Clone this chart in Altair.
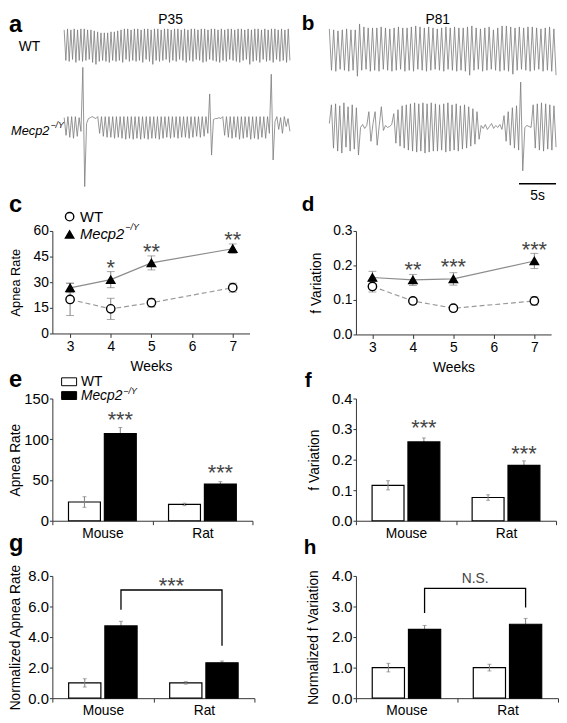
import altair as alt
import pandas as pd

FONT = "Liberation Sans"
TRACE = "#7a7a7a"
KO_LINE = "#8c8c8c"
WT_LINE = "#9a9a9a"
ERR = "#808080"
STAR = "#444444"
AXIS = "#333333"

# ---------------- panels a / b : respiration traces ----------------
# signal units (0 = bottom of the trace strip)
a_seconds = 30.0
a_wt_peak = [175, 176, 175, 176, 175, 176, 176, 175, 175, 174,
             173, 172, 172, 172, 173, 173, 174, 175, 176, 176,
             175, 176, 176, 175, 176, 176, 175, 176, 176, 175,
             176, 176, 175, 176, 176, 175, 176, 175, 176, 176,
             175, 176, 176, 175, 176, 176, 175, 176, 175, 176,
             176, 175, 176, 176, 175, 176, 175, 176, 176, 175,
             176, 175, 176, 176, 175, 176, 175, 176]
a_wt_trough = [144, 143, 145, 142, 144, 143, 144, 145, 142, 140,
               143, 144, 143, 142, 144, 143, 144, 142, 145, 143,
               144, 143, 144, 142, 145, 143, 140, 144, 143, 144,
               145, 142, 144, 143, 145, 144, 142, 144, 143, 145,
               144, 142, 143, 145, 144, 143, 142, 144, 143, 145,
               144, 143, 142, 144, 145, 140, 143, 144, 142, 145,
               143, 144, 142, 145, 143, 144, 142, 144]
a_ko = [86, 68, 87, 66, 87, 65, 87, 67, 86, 72,
        137, 16, 80,
        85, 86, 87, 86, 85,
        87, 70, 87, 67, 87, 66, 87, 66, 87, 65, 87, 66, 87, 65, 87, 64, 87, 65, 87, 64,
        87, 65, 87, 64, 87, 65, 87, 64, 87, 65, 87, 65, 87, 64, 87, 65, 87, 66, 87, 65,
        87, 66, 87, 65, 87, 66, 87, 66, 87, 65, 87, 66, 87, 67, 87, 66, 87, 67, 87, 70,
        110, 48, 84,
        85, 85, 86, 85,
        87, 68, 87, 66, 87, 65, 87, 66, 87, 64, 87, 65, 87, 66, 87, 64, 87, 65, 87, 64,
        87, 66, 87, 65, 87, 70,
        130, 43, 82,
        87, 74, 86, 70, 87, 77, 85, 72]

b_seconds = 30.6
b_wt_peak = [176, 175, 174, 175, 176, 175, 175, 181, 178, 177,
             177, 177, 178, 177, 176, 177, 178, 177, 177, 178,
             179, 178, 177, 178, 177, 176, 177, 178, 177, 178,
             177, 177, 178, 179, 177, 176, 177, 178, 175, 177,
             179, 179, 178, 177, 178, 177, 178, 178, 177, 176,
             177, 178, 176]
b_wt_trough = [134, 133, 135, 134, 133, 134, 128, 134, 135, 133,
               134, 133, 135, 134, 133, 134, 135, 133, 134, 133,
               135, 134, 133, 134, 135, 134, 133, 135, 134, 133,
               134, 133, 129, 134, 135, 133, 134, 135, 134, 133,
               134, 133, 130, 134, 135, 134, 133, 134, 135, 133,
               134, 133, 129]
b_ko = [80, 99, 55, 100, 52, 98, 50, 101, 56, 97, 52, 99, 54, 96, 48,
        76, 79, 75, 78, 92, 62, 80, 92, 58, 78, 97, 73, 78, 76, 77, 79,
        90, 60, 94, 57, 98, 55, 99, 53, 100, 52, 101, 51, 100, 52, 101, 50, 100, 51, 101, 52,
        100, 52, 99, 53, 100, 51, 101, 52, 99, 53, 100, 52, 98, 54, 99, 55, 97, 57, 95, 59, 92, 64,
        78, 75, 79, 74, 77, 80, 75, 78, 76, 79, 74,
        88, 62, 92, 58, 96, 55, 98, 53,
        122, 32,
        76, 78, 77, 76,
        99, 55, 100, 53, 101, 52, 100, 54, 99, 53, 98, 56]
scalebar_s = [25.6, 30.6]
scalebar_level = 19
scalebar_label_level = 6.5

# ---------------- panels c / d : weekly time course ----------------
weeks = [3, 4, 5, 7]
c_wt = [19.9, 14.4, 18.0, 26.8]
c_wt_err = [9.4, 6.2, 2.5, 2.6]
c_ko = [26.7, 31.5, 41.3, 49.6]
c_ko_err = [2.8, 4.7, 4.1, 2.8]
c_star_weeks = [4, 5, 7]
c_star_y = [41.7, 51.3, 58.4]
c_star_txt = ["*", "**", "**"]

d_wt = [0.139, 0.097, 0.076, 0.097]
d_wt_err = [0.016, 0.008, 0.006, 0.012]
d_ko = [0.165, 0.158, 0.161, 0.213]
d_ko_err = [0.018, 0.016, 0.018, 0.022]
d_star_weeks = [4, 5, 7]
d_star_y = [0.204, 0.211, 0.261]
d_star_txt = ["**", "***", "***"]

# ---------------- panels e-h : mouse vs rat ----------------
species = ["Mouse", "Rat"]
genos = ["WT", "Mecp2"]
e_wt = [23, 20]
e_wt_err = [6.5, 1.5]
e_ko = [107, 45]
e_ko_err = [7.5, 3]
e_star_y = [130.7, 65.5]

f_wt = [0.116, 0.076]
f_wt_err = [0.015, 0.009]
f_ko = [0.258, 0.181]
f_ko_err = [0.013, 0.015]
f_star_y = [0.324, 0.236]

g_wt = [1.0, 1.0]
g_wt_err = [0.27, 0.08]
g_ko = [4.73, 2.32]
g_ko_err = [0.30, 0.11]
g_bracket = [5.79, 7.08, 7.08, 3.43]
g_sig_y = 7.74

h_wt = [1.0, 1.0]
h_wt_err = [0.14, 0.11]
h_ko = [2.25, 2.42]
h_ko_err = [0.13, 0.19]
h_bracket = [2.79, 3.59, 3.59, 2.97]
h_sig_y = 3.91


def txt(s, x, y, size=14, weight="normal", style="normal", align="left",
        baseline="alphabetic", color="black"):
    return alt.Chart(pd.DataFrame({"s": [s]})).mark_text(
        fontSize=size, fontWeight=weight, fontStyle=style, align=align,
        baseline=baseline, color=color, font=FONT
    ).encode(text="s:N", x=alt.value(x), y=alt.value(y))


def interleave(p, q):
    out = []
    for u, v in zip(p, q):
        out.extend([u, v])
    return out


def trace_frame(vals, duration, name):
    n = len(vals)
    return pd.DataFrame({"t": [duration * i / (n - 1) for i in range(n)],
                         "v": vals, "s": [name] * n})


TV = alt.Scale(domain=[0, 180], nice=False, zero=False)

# panel a
TA = alt.Scale(domain=[-1.572, a_seconds], nice=False, zero=False)
df_a = pd.concat([trace_frame(interleave(a_wt_peak, a_wt_trough), a_seconds, "WT"),
                  trace_frame(a_ko, a_seconds, "Mecp2")])
panel_a = alt.layer(
    alt.Chart(df_a).mark_line(color=TRACE, strokeWidth=0.8).encode(
        x=alt.X("t:Q", scale=TA, axis=None), y=alt.Y("v:Q", scale=TV, axis=None),
        detail="s:N"),
    txt("a", -44, -12, 24, "bold", baseline="top"),
    txt("P35", 120, -5, 14, align="center", baseline="middle"),
    txt("WT", -34, 22, 14, baseline="middle"),
    txt("Mecp2", -3, 107.5, 13, style="italic", align="right", baseline="middle"),
    txt("\u2212/Y", -2, 102, 9, style="italic", baseline="middle"),
).properties(width=241, height=180)

# panel b
TB = alt.Scale(domain=[3.592, b_seconds], nice=False, zero=False)
df_b = pd.concat([trace_frame(interleave(b_wt_peak, b_wt_trough), b_seconds, "WT"),
                  trace_frame(b_ko, b_seconds, "Mecp2")])
sb = pd.DataFrame({"t0": [scalebar_s[0]], "t1": [scalebar_s[1]], "v": [scalebar_level]})
sbt = pd.DataFrame({"t": [(scalebar_s[0] + scalebar_s[1]) / 2], "v": [scalebar_label_level],
                    "s": ["5s"]})
panel_b = alt.layer(
    alt.Chart(df_b).mark_line(color=TRACE, strokeWidth=0.8).encode(
        x=alt.X("t:Q", scale=TB, axis=None), y=alt.Y("v:Q", scale=TV, axis=None),
        detail="s:N"),
    alt.Chart(sb).mark_rule(color="black", strokeWidth=1.5).encode(
        x=alt.X("t0:Q", scale=TB, axis=None), x2="t1:Q",
        y=alt.Y("v:Q", scale=TV, axis=None)),
    alt.Chart(sbt).mark_text(fontSize=14, baseline="middle", font=FONT).encode(
        x=alt.X("t:Q", scale=TB, axis=None), y=alt.Y("v:Q", scale=TV, axis=None),
        text="s:N"),
    txt("b", -55, -12, 21, "bold", baseline="top"),
    txt("P81", 83, -5, 14, align="center", baseline="middle"),
).properties(width=203, height=180)


def line_panel(wt, wt_err, ko, ko_err, xdom, ydom, yvals, yfmt, ytitle, ytitle_size,
               ytitle_pad, s_w, s_y, s_t, width, height, legend, extra):
    X = alt.X("w:Q", scale=alt.Scale(domain=xdom, nice=False, zero=False),
              axis=alt.Axis(values=[3, 4, 5, 6, 7], title="Weeks", labelFontSize=14,
                            titleFontSize=14, titleFontWeight="normal", tickSize=4,
                            labelPadding=2, titlePadding=7))
    ys = alt.Scale(domain=ydom, nice=False, zero=False)
    yax = alt.Axis(values=yvals, format=yfmt, title=ytitle, titleFontSize=ytitle_size,
                   titleFontWeight="normal", labelFontSize=14, tickSize=3,
                   labelPadding=1, titlePadding=ytitle_pad)
    rows = []
    for i, w in enumerate(weeks):
        rows.append(dict(w=w, g="WT", m=wt[i], lo=wt[i] - wt_err[i], hi=wt[i] + wt_err[i]))
    for i, w in enumerate(weeks):
        rows.append(dict(w=w, g="Mecp2", m=ko[i], lo=ko[i] - ko_err[i], hi=ko[i] + ko_err[i]))
    base = alt.Chart(pd.DataFrame(rows))
    Y = alt.Y("m:Q", scale=ys, axis=yax)
    layers = [
        base.transform_filter("datum.g == 'WT'").mark_line(
            color=WT_LINE, strokeWidth=1.2, strokeDash=[5, 3]).encode(x=X, y=Y),
        base.transform_filter("datum.g == 'Mecp2'").mark_line(
            color=KO_LINE, strokeWidth=1.2).encode(x=X, y=Y),
        base.mark_rule(color=ERR, strokeWidth=1).encode(
            x=X, y=alt.Y("lo:Q", scale=ys, axis=yax), y2="hi:Q"),
        base.mark_tick(orient="horizontal", size=8, thickness=1, color=ERR).encode(
            x=X, y=alt.Y("lo:Q", scale=ys, axis=yax)),
        base.mark_tick(orient="horizontal", size=8, thickness=1, color=ERR).encode(
            x=X, y=alt.Y("hi:Q", scale=ys, axis=yax)),
        base.mark_point(filled=True, strokeWidth=1.4, size=72, opacity=1).encode(
            x=X, y=Y,
            shape=alt.Shape("g:N", scale=alt.Scale(domain=genos,
                                                   range=["circle", "triangle-up"]),
                            legend=legend),
            fill=alt.Fill("g:N", scale=alt.Scale(domain=genos, range=["white", "black"]),
                          legend=legend),
            stroke=alt.Stroke("g:N", scale=alt.Scale(domain=genos,
                                                     range=["black", "black"]),
                              legend=legend)),
        alt.Chart(pd.DataFrame({"w": s_w, "y": s_y, "s": s_t})).mark_text(
            fontSize=22, color=STAR, baseline="middle", dy=6, font=FONT).encode(
            x=X, y=alt.Y("y:Q", scale=ys, axis=yax), text="s:N"),
    ]
    return alt.layer(*layers, *extra).properties(width=width, height=height)


ITALIC_KO = alt.expr("datum.label == 'WT' ? 'normal' : 'italic'")

legend_c = alt.Legend(title=None, orient="none", legendX=10, legendY=-22,
                      direction="vertical", symbolSize=72, symbolStrokeColor="black",
                      symbolStrokeWidth=1.4, labelFontSize=15, labelFont=FONT,
                      labelOffset=3, rowPadding=2, padding=0, labelFontStyle=ITALIC_KO)

panel_c = line_panel(c_wt, c_wt_err, c_ko, c_ko_err, [2.564, 7.412], [0, 60],
                     [0, 15, 30, 45, 60], "d", "Apnea Rate", 13, 11,
                     c_star_weeks, c_star_y, c_star_txt, 200, 104, legend_c,
                     [txt("c", -44, -19, 24, "bold"),
                      txt("\u2212/Y", 74, -4, 9, style="italic", baseline="middle")])

panel_d = line_panel(d_wt, d_wt_err, d_ko, d_ko_err, [2.593, 7.414], [0, 0.3],
                     [0.0, 0.1, 0.2, 0.3], ".1f", "f Variation", 14, 9,
                     d_star_weeks, d_star_y, d_star_txt, 198, 105, None,
                     [txt("d", -55, -20, 21, "bold")])


def bar_panel(wt, wt_err, ko, ko_err, ydom, yvals, yfmt, ytitle, tpad, width, height,
              stars_y, bracket, sig, sig_txt, legend, extra):
    xs = alt.Scale(domain=species, paddingInner=0, paddingOuter=0)
    xax = alt.Axis(title=None, labelAngle=0, tickBand="extent", labelFontSize=14,
                   labelPadding=2, tickSize=4)
    X = alt.X("sp:N", scale=xs, axis=xax)
    XO = alt.XOffset("g:N", scale=alt.Scale(domain=genos, paddingInner=0.11,
                                             paddingOuter=0.45))
    ys = alt.Scale(domain=ydom, nice=False, zero=True)
    yax = alt.Axis(values=yvals, format=yfmt, title=ytitle, titleFontSize=14,
                   titleFontWeight="normal", labelFontSize=15, tickSize=3,
                   labelPadding=1, titlePadding=tpad)
    rows = []
    for i, sp in enumerate(species):
        rows.append(dict(sp=sp, g="WT", m=wt[i], lo=wt[i] - wt_err[i], hi=wt[i] + wt_err[i]))
        rows.append(dict(sp=sp, g="Mecp2", m=ko[i], lo=ko[i] - ko_err[i], hi=ko[i] + ko_err[i]))
    base = alt.Chart(pd.DataFrame(rows))
    Y = alt.Y("m:Q", scale=ys, axis=yax)

    def errs(flt):
        b = base.transform_filter(flt)
        return [
            b.mark_rule(color=ERR, strokeWidth=1).encode(
                x=X, xOffset=XO, y=alt.Y("lo:Q", scale=ys, axis=yax), y2="hi:Q"),
            b.mark_tick(size=4, thickness=1, color=ERR).encode(
                x=X, xOffset=XO, y=alt.Y("lo:Q", scale=ys, axis=yax)),
            b.mark_tick(size=4, thickness=1, color=ERR).encode(
                x=X, xOffset=XO, y=alt.Y("hi:Q", scale=ys, axis=yax)),
        ]

    layers = errs("datum.g == 'Mecp2'") + [
        base.mark_bar(stroke="black", strokeWidth=1.2).encode(
            x=X, xOffset=XO, y=Y,
            fill=alt.Fill("g:N", scale=alt.Scale(domain=genos, range=["white", "black"]),
                          legend=legend)),
    ] + errs("datum.g == 'WT'")
    if stars_y is not None:
        sdf = pd.DataFrame({"sp": species, "g": ["Mecp2", "Mecp2"], "y": stars_y,
                            "s": ["***", "***"]})
        layers.append(alt.Chart(sdf).mark_text(
            fontSize=22, color=STAR, baseline="middle", dy=6, font=FONT).encode(
            x=X, xOffset=XO, y=alt.Y("y:Q", scale=ys, axis=yax), text="s:N"))
    if bracket is not None:
        bdf = pd.DataFrame({"sp": ["Mouse", "Mouse", "Rat", "Rat"], "g": ["Mecp2"] * 4,
                            "y": bracket, "o": [0, 1, 2, 3]})
        layers.append(alt.Chart(bdf).mark_line(color="black", strokeWidth=1.3).encode(
            x=X, xOffset=XO, y=alt.Y("y:Q", scale=ys, axis=yax), order="o:Q"))
        tdf = pd.DataFrame({"sp": ["Mouse"], "g": ["Mecp2"], "y": [sig], "s": [sig_txt]})
        if sig_txt == "***":
            mk = alt.Chart(tdf).mark_text(fontSize=22, color=STAR, baseline="middle",
                                          dy=6, dx=width / 4, font=FONT)
        else:
            mk = alt.Chart(tdf).mark_text(fontSize=14, color=STAR, baseline="middle",
                                          dx=width / 4, font=FONT)
        layers.append(mk.encode(x=X, xOffset=XO, y=alt.Y("y:Q", scale=ys, axis=yax),
                                text="s:N"))
    return alt.layer(*layers, *extra).properties(width=width, height=height)


legend_e = alt.Legend(title=None, orient="none", legendX=10, legendY=-24,
                      direction="vertical", symbolType="M-1.9,-1H1.9V1H-1.9Z",
                      symbolSize=64, symbolStrokeColor="black", symbolStrokeWidth=1,
                      labelFontSize=14, labelFont=FONT, labelOffset=5, rowPadding=0,
                      padding=0, labelFontStyle=ITALIC_KO)

panel_e = bar_panel(e_wt, e_wt_err, e_ko, e_ko_err, [0, 150], [0, 50, 100, 150], "d",
                    "Apnea Rate", 1, 203, 124, e_star_y, None, None, None, legend_e,
                    [txt("e", -44, -12, 24, "bold"),
                     txt("\u2212/Y", 72, -8, 9, style="italic", baseline="middle")])
panel_f = bar_panel(f_wt, f_wt_err, f_ko, f_ko_err, [0, 0.4], [0.0, 0.1, 0.2, 0.3, 0.4],
                    ".1f", "f Variation", 10, 203, 124, f_star_y, None, None, None, None,
                    [txt("f", -52, -12, 21, "bold")])
panel_g = bar_panel(g_wt, g_wt_err, g_ko, g_ko_err, [0, 8], [0, 2, 4, 6, 8], ".1f",
                    "Normalized Apnea Rate", 5, 205, 124, None, g_bracket, g_sig_y, "***",
                    None, [txt("g", -44, -25, 24, "bold")])
panel_h = bar_panel(h_wt, h_wt_err, h_ko, h_ko_err, [0, 4], [0, 1, 2, 3, 4], ".1f",
                    "Normalized f Variation", 11, 205, 124, None, h_bracket, h_sig_y, "N.S.",
                    None, [txt("h", -53, -22, 21, "bold")])


def spacer(w, h):
    return alt.Chart(pd.DataFrame({"z": [0]})).mark_point(opacity=0).encode(
        x=alt.X("z:Q", axis=None), y=alt.Y("z:Q", axis=None)).properties(width=w, height=h)


cells = [panel_a, panel_b,
         spacer(308, 29), spacer(1, 29),
         panel_c, panel_d,
         spacer(308, 65), spacer(1, 65),
         panel_e, panel_f,
         spacer(308, 56), spacer(1, 56),
         panel_g, panel_h]

chart = alt.concat(*cells, columns=2, spacing=0, bounds="flush", align="each").resolve_scale(
    x="independent", y="independent", xOffset="independent",
    fill="independent", shape="independent", stroke="independent"
).resolve_legend(fill="independent", shape="independent", stroke="independent").properties(
    padding=0
).configure(font=FONT).configure_view(stroke=None).configure_axis(
    grid=False, domainColor=AXIS, tickColor=AXIS, labelColor="black", titleColor="black",
    labelFont=FONT, titleFont=FONT)

chart.save("out.html", embed_options={"renderer": "svg", "actions": False})
